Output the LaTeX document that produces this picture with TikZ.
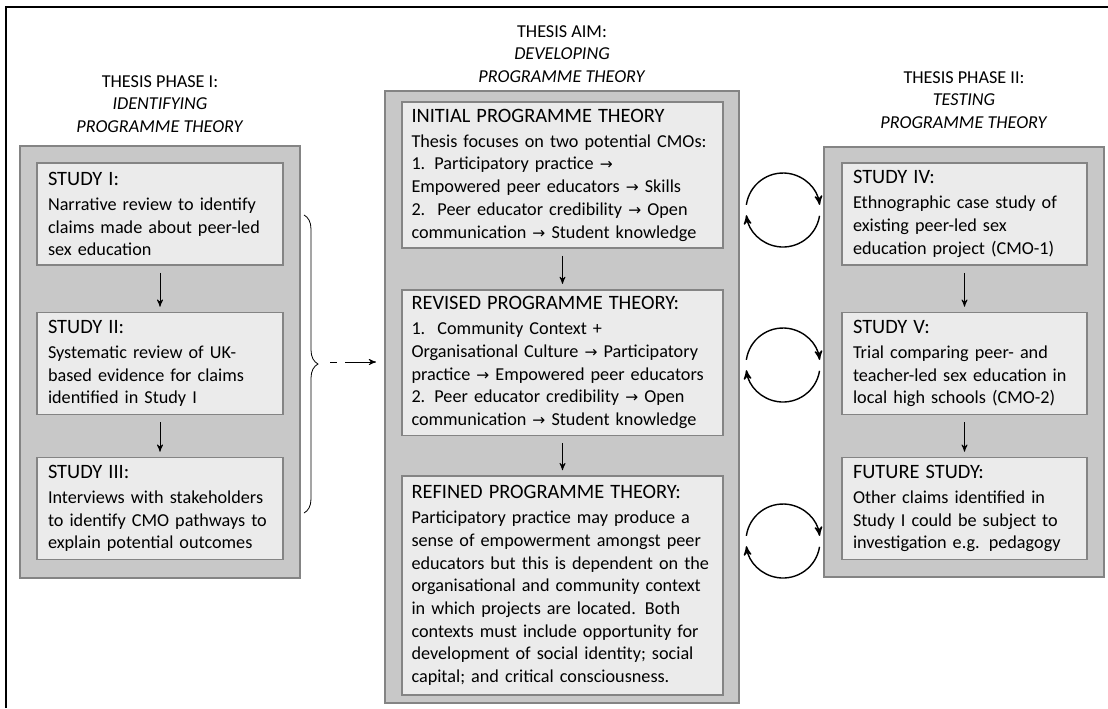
\documentclass[tikz,border=0pt]{standalone}
\usepackage{fontspec}
\setmainfont{Carlito}
\newfontfamily\arrowfont[Scale=0.85]{DejaVu Sans}
\usetikzlibrary{arrows,decorations.pathreplacing}

\definecolor{panelgrey}{RGB}{200,200,200}
\definecolor{boxgrey}{RGB}{235,235,235}
\definecolor{edgegrey}{RGB}{132,132,132}

\newcommand{\bodyfont}{\fontsize{9.1}{11.35}\selectfont}
\newcommand{\hd}[1]{{\fontsize{10.2}{12}\selectfont #1}\\[1.2pt]}
\newcommand{\cmo}{{\arrowfont →}}

\begin{document}
\begin{tikzpicture}[->,>=stealth',x=0.5pt,y=-0.5pt,semithick]
  \tikzstyle{panel}=[draw=edgegrey,fill=panelgrey,line width=1pt]
  \tikzstyle{study}=[draw=edgegrey,fill=boxgrey,line width=0.8pt,align=left,
                     text width=112pt,minimum height=51pt,inner xsep=5.5pt,font=\bodyfont]
  \tikzstyle{theory}=[study,text width=151pt,inner xsep=4.75pt]
  \tikzstyle{title}=[align=center,font=\bodyfont]
  \tikzstyle{flow}=[thin,shorten <=3.5pt,shorten >=2.5pt]

  \useasboundingbox (0,0) rectangle (1108,708);
  \draw[-,line width=1pt] (6,708) -- (6,7) -- (1108,7);

  % titles
  \node[title] (tI)   at (160,104) {THESIS PHASE I:\\ \textit{IDENTIFYING}\\ \textit{PROGRAMME THEORY}};
  \node[title] (tAim) at (562,54)  {THESIS AIM:\\ \textit{DEVELOPING}\\ \textit{PROGRAMME THEORY}};
  \node[title] (tII)  at (964,100) {THESIS PHASE II:\\ \textit{TESTING}\\ \textit{PROGRAMME THEORY}};

  % grey panels
  \node[panel,minimum width=140pt,minimum height=216pt] (phaseI)  at (160,362) {};
  \node[panel,minimum width=177pt,minimum height=306pt] (aim)     at (562,397) {};
  \node[panel,minimum width=140pt,minimum height=215pt] (phaseII) at (964,362) {};

  % phase I
  \node[study] (s1) at (160,214)   {\hd{STUDY I:}Narrative review to identify\\ claims made about peer-led\\ sex education};
  \node[study] (s2) at (160,363.5) {\hd{STUDY II:}Systematic review of UK-\\ based evidence for claims\\ identified in Study I};
  \node[study] (s3) at (160,508.5) {\hd{STUDY III:}Interviews with stakeholders\\ to identify CMO pathways to\\ explain potential outcomes};

  % aim
  \node[theory,minimum height=73pt] (initial) at (562.5,175)
    {\hd{INITIAL PROGRAMME THEORY}Thesis focuses on two potential CMOs:\\
     1. Participatory practice \cmo\\ Empowered peer educators \cmo{} Skills\\
     2.\ \ Peer educator credibility \cmo{} Open\\ communication \cmo{} Student knowledge};
  \node[theory,minimum height=72.5pt] (revised) at (562.5,362.5)
    {\hd{REVISED PROGRAMME THEORY:}1.\ \ Community Context +\\
     Organisational Culture \cmo{} Participatory\\ practice \cmo{} Empowered peer educators\\
     2. Peer educator credibility \cmo{} Open\\ communication \cmo{} Student knowledge};
  \node[theory,minimum height=109.5pt] (refined) at (562.5,585.5)
    {\hd{REFINED PROGRAMME THEORY:}Participatory practice may produce a\\
     sense of empowerment amongst peer\\ educators but this is dependent on the\\
     organisational and community context\\ in which projects are located. Both\\
     contexts must include opportunity for\\ development of social identity; social\\
     capital; and critical consciousness.};

  % phase II
  \node[study,text width=111.5pt] (s4) at (964.5,214)   {\hd{STUDY IV:}Ethnographic case study of\\ existing peer-led sex\\ education project (CMO-1)};
  \node[study,text width=111.5pt] (s5) at (964.5,363.5) {\hd{STUDY V:}Trial comparing peer- and\\ teacher-led sex education in\\ local high schools (CMO-2)};
  \node[study,text width=111.5pt] (fs) at (964.5,508.5) {\hd{FUTURE STUDY:}Other claims identified in\\ Study I could be subject to\\ investigation e.g. pedagogy};

  \path (s1) edge[flow] (s2)
        (s2) edge[flow] (s3)
        (initial) edge[flow] (revised)
        (revised) edge[flow] (refined)
        (s4) edge[flow] (s5)
        (s5) edge[flow] (fs);

  % brace and link to the aim
  \draw[-,thin,decorate,decoration={brace,amplitude=7pt}] (304,215) -- (304,513);
  \coordinate (brtip) at (318,362);
  \draw[thin,dash pattern=on 3.5pt off 4pt on 20pt off 1pt,shorten <=6pt,shorten >=4pt]
    (brtip) -- (brtip -| aim.west);

  % feedback cycles
  \foreach \cy in {210,365,541} {
    \coordinate (cyc) at (783,\cy);
    \draw[line width=0.7pt] ([shift={(172:18.5pt)}]cyc) arc[start angle=172,end angle=8,radius=18.5pt];
    \draw[line width=0.7pt] ([shift={(-9:18.5pt)}]cyc) arc[start angle=-9,end angle=-172,radius=18.5pt];
  }
\end{tikzpicture}
\end{document}
